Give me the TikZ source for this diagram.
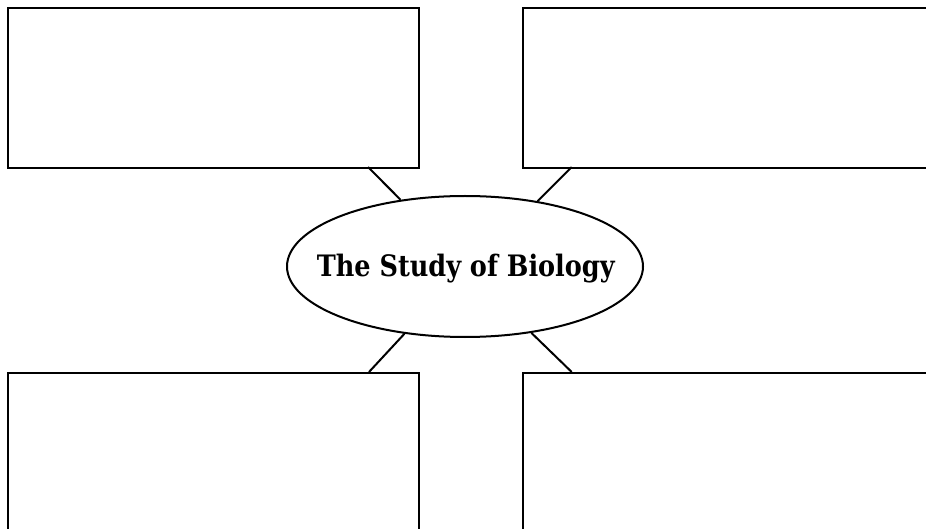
\documentclass[tikz,border=0pt]{standalone}
\usepackage{fontspec}
\newfontfamily\titlefont{DejaVu Serif}
\usetikzlibrary{shapes.geometric}
\begin{document}
\begin{tikzpicture}[x=1pt,y=-1pt,
  box/.style={draw, rectangle, anchor=north west, inner sep=0pt, line width=2pt,
    minimum width=411pt},
  hub/.style={draw, ellipse, line width=2pt, inner sep=0pt,
    minimum width=356pt, minimum height=141pt},
  title/.style={inner sep=0pt, anchor=base,
    font=\titlefont\bfseries\fontsize{29.5}{32}\selectfont},
  link/.style={line width=2pt}]
\useasboundingbox (0,0) rectangle (926,529);
\clip (0,0) rectangle (926,529);
\fill[white] (0,0) rectangle (926,529);
\node[box, minimum height=160pt] (tl) at (7,7) {};
\node[box, minimum width=430pt, minimum height=160pt] (tr) at (522,7) {};
\node[box, minimum height=180pt] (bl) at (7,372) {};
\node[box, minimum width=430pt, minimum height=180pt] (br) at (522,372) {};
\node[hub] (hub) at (465,266.5) {};
\node[title] (label) at (465.8,276.6) {\scalebox{0.866}[1]{The Study of Biology}};
\coordinate (tlc) at (368,167);
\coordinate (trc) at (571.7,167);
\coordinate (blc) at (369,372);
\coordinate (brc) at (571.7,372);
\draw[link] (tlc) -- (hub.134);
\draw[link] (trc) -- (hub.42);
\draw[link] (blc) -- (hub.228.4);
\draw[link] (brc) -- (hub.315.2);
\end{tikzpicture}
\end{document}
